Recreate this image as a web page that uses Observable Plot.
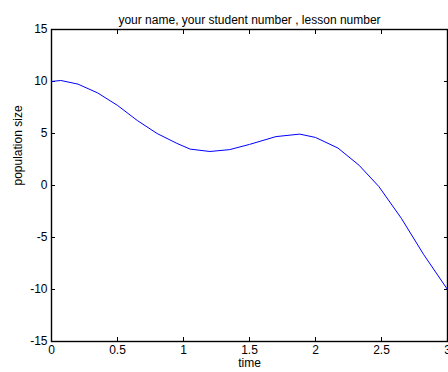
<!DOCTYPE html>
<html>
<head>
<meta charset="utf-8">
<script src="https://cdn.jsdelivr.net/npm/d3@7"></script>
<script src="https://cdn.jsdelivr.net/npm/@observablehq/plot@0.6"></script>
<style>
  html, body { margin: 0; padding: 0; overflow: hidden; background: #fff; }
  #chart svg { display: block; }
</style>
</head>
<body>
<div id="chart"></div>
<script>
// Population size over time
const time = [0, 0.07, 0.2, 0.35, 0.5, 0.65, 0.8, 0.95, 1.05, 1.2, 1.35, 1.5, 1.7, 1.88, 2.0, 2.17, 2.33, 2.48, 2.65, 2.82, 3.0];
const population = [10.0, 10.1, 9.75, 8.9, 7.7, 6.25, 5.0, 4.05, 3.5, 3.27, 3.45, 3.95, 4.7, 4.94, 4.62, 3.6, 1.95, -0.1, -3.15, -6.65, -10.0];

const xTicks = [0, 0.5, 1, 1.5, 2, 2.5, 3];
const yTicks = [-15, -10, -5, 0, 5, 10, 15];

const titleText = "your name, your student number , lesson number";
const xLabel = "time";
const yLabel = "population size";

const data = time.map((t, i) => ({t, p: population[i]}));
const fmt = d => String(d);
const blank = () => "";
const fs = 12;

const chart = Plot.plot({
  width: 448,
  height: 372,
  marginTop: 29,
  marginBottom: 31,
  marginLeft: 51,
  marginRight: 1,
  style: {fontFamily: "'Liberation Sans', Arial, Helvetica, sans-serif", fontSize: `${fs}px`, color: "#000", background: "#fff"},
  x: {domain: [0, 3]},
  y: {domain: [-15, 15]},
  marks: [
    Plot.frame({stroke: "#000", strokeWidth: 1.4}),
    Plot.axisX({ticks: xTicks, anchor: "bottom", tickSize: -4, tickPadding: 8, tickFormat: fmt, label: null, fontSize: fs}),
    Plot.axisX({ticks: xTicks, anchor: "top", tickSize: -4, tickFormat: blank, label: null}),
    Plot.axisY({ticks: yTicks, anchor: "left", tickSize: -4, tickPadding: 8, tickFormat: fmt, label: null, fontSize: fs}),
    Plot.axisY({ticks: yTicks, anchor: "right", tickSize: -4, tickFormat: blank, label: null}),
    Plot.line(data, {x: "t", y: "p", stroke: "#0000ff", strokeWidth: 1}),
    Plot.text([titleText], {frameAnchor: "top", dy: -14, text: d => d, fontSize: fs, fill: "#000"}),
    Plot.text([xLabel], {frameAnchor: "bottom", dy: 25, text: d => d, fontSize: fs, fill: "#000"}),
    Plot.text([yLabel], {frameAnchor: "left", dx: -33, rotate: -90, text: d => d, fontSize: fs, fill: "#000"})
  ]
});

document.getElementById("chart").append(chart);
</script>
</body>
</html>
